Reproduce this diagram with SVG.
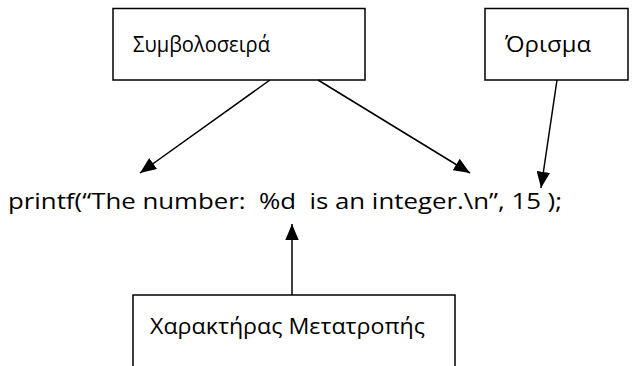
<svg xmlns="http://www.w3.org/2000/svg" width="642" height="366" viewBox="0 0 642 366">
<style>
.box{fill:#fff;stroke:#000;stroke-width:1.5}
.lbl{font-family:"Open Sans","Liberation Sans",sans-serif;font-size:21px;fill:#000}
.code{font-family:"Open Sans","Liberation Sans",sans-serif;font-size:22px;fill:#000;white-space:pre}
.conn{stroke:#000;stroke-width:1.5;fill:none;marker-end:url(#ah)}
</style>
<defs>
<marker id="ah" viewBox="0 0 12 10" refX="12" refY="5" markerWidth="11" markerHeight="9" orient="auto" markerUnits="strokeWidth">
<path d="M0,0 L12,5 L0,10 z" fill="#000"/>
</marker>
</defs>
<rect width="642" height="366" fill="#fff"/>
<g id="node-string">
<rect class="box" x="113" y="8.5" width="252" height="71.5"/>
<text class="lbl" x="133" y="52" textLength="137" lengthAdjust="spacingAndGlyphs">Συμβολοσειρά</text>
</g>
<g id="node-arg">
<rect class="box" x="485" y="8.5" width="143" height="71.5"/>
<text class="lbl" x="505" y="52" textLength="86" lengthAdjust="spacingAndGlyphs">Όρισμα</text>
</g>
<g id="node-conv">
<rect class="box" x="133" y="295" width="322" height="80"/>
<text class="lbl" x="150" y="334" textLength="275" lengthAdjust="spacingAndGlyphs">Χαρακτήρας Μετατροπής</text>
</g>
<g id="code">
<text class="code" x="8" y="209" textLength="554" lengthAdjust="spacingAndGlyphs">printf(“The number:  %d  is an integer.\n”, 15 );</text>
</g>
<g id="connectors">
<line class="conn" x1="270" y1="80" x2="140" y2="173"/>
<line class="conn" x1="318" y1="80" x2="470" y2="173"/>
<line class="conn" x1="557" y1="80" x2="541" y2="188"/>
<line class="conn" x1="292" y1="295" x2="292" y2="224"/>
</g>
</svg>
